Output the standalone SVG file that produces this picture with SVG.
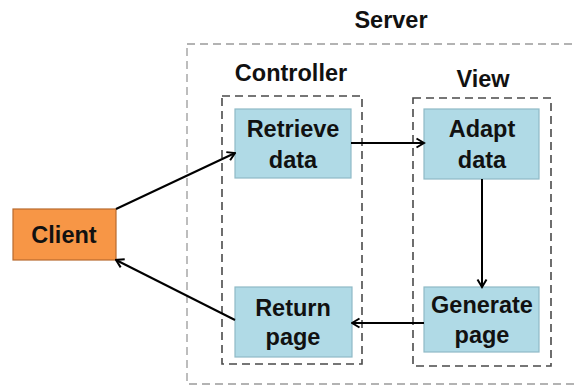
<svg xmlns="http://www.w3.org/2000/svg" width="576" height="387" viewBox="0 0 576 387">
<defs>
<style>
text{font-family:"Liberation Sans",Arial,sans-serif;font-weight:bold;font-size:23.5px;fill:#111;text-anchor:middle}
.server{fill:none;stroke:#9a9a9a;stroke-width:1.3;stroke-dasharray:8 5}
.group{fill:none;stroke:#4a4a4a;stroke-width:1.6;stroke-dasharray:8 5}
.box{fill:#B0DAE6;stroke:#8FBAC6;stroke-width:1.2}
.client{fill:#F79646;stroke:#B86A2E;stroke-width:1.2}
.conn{fill:none;stroke:#000;stroke-width:2;marker-end:url(#arr)}
</style>
<marker id="arr" viewBox="0 0 12 12" refX="10.5" refY="6" markerWidth="12" markerHeight="12" markerUnits="userSpaceOnUse" orient="auto">
<path d="M3,1.5 L10.5,6 L3,10.5" fill="none" stroke="#000" stroke-width="2"/>
</marker>
</defs>
<rect width="576" height="387" fill="#fff"/>
<g id="server">
<rect class="server" x="187" y="44" width="420" height="340"/>
<text x="391" y="28">Server</text>
</g>
<g id="controller">
<rect class="group" x="222" y="96" width="140" height="268"/>
<text x="291" y="81">Controller</text>
</g>
<g id="view">
<rect class="group" x="413" y="98" width="138" height="268"/>
<text x="483" y="87">View</text>
</g>
<g id="retrieve-data">
<rect class="box" x="235" y="109" width="116" height="69"/>
<text x="293" y="137">Retrieve</text>
<text x="293" y="168">data</text>
</g>
<g id="adapt-data">
<rect class="box" x="424" y="109" width="115" height="70"/>
<text x="482" y="137">Adapt</text>
<text x="482" y="168">data</text>
</g>
<g id="generate-page">
<rect class="box" x="424" y="287" width="115" height="65"/>
<text x="482" y="313">Generate</text>
<text x="482" y="343">page</text>
</g>
<g id="return-page">
<rect class="box" x="235" y="287" width="117" height="70"/>
<text x="293" y="316">Return</text>
<text x="293" y="345">page</text>
</g>
<g id="client">
<rect class="client" x="13" y="209" width="103" height="51"/>
<text x="64" y="243">Client</text>
</g>
<g id="connectors">
<line class="conn" x1="116" y1="209" x2="235" y2="153"/>
<line class="conn" x1="351" y1="143" x2="424" y2="143"/>
<line class="conn" x1="482" y1="179" x2="482" y2="287"/>
<line class="conn" x1="424" y1="323" x2="352" y2="323"/>
<line class="conn" x1="235" y1="320" x2="116" y2="260"/>
</g>
</svg>
